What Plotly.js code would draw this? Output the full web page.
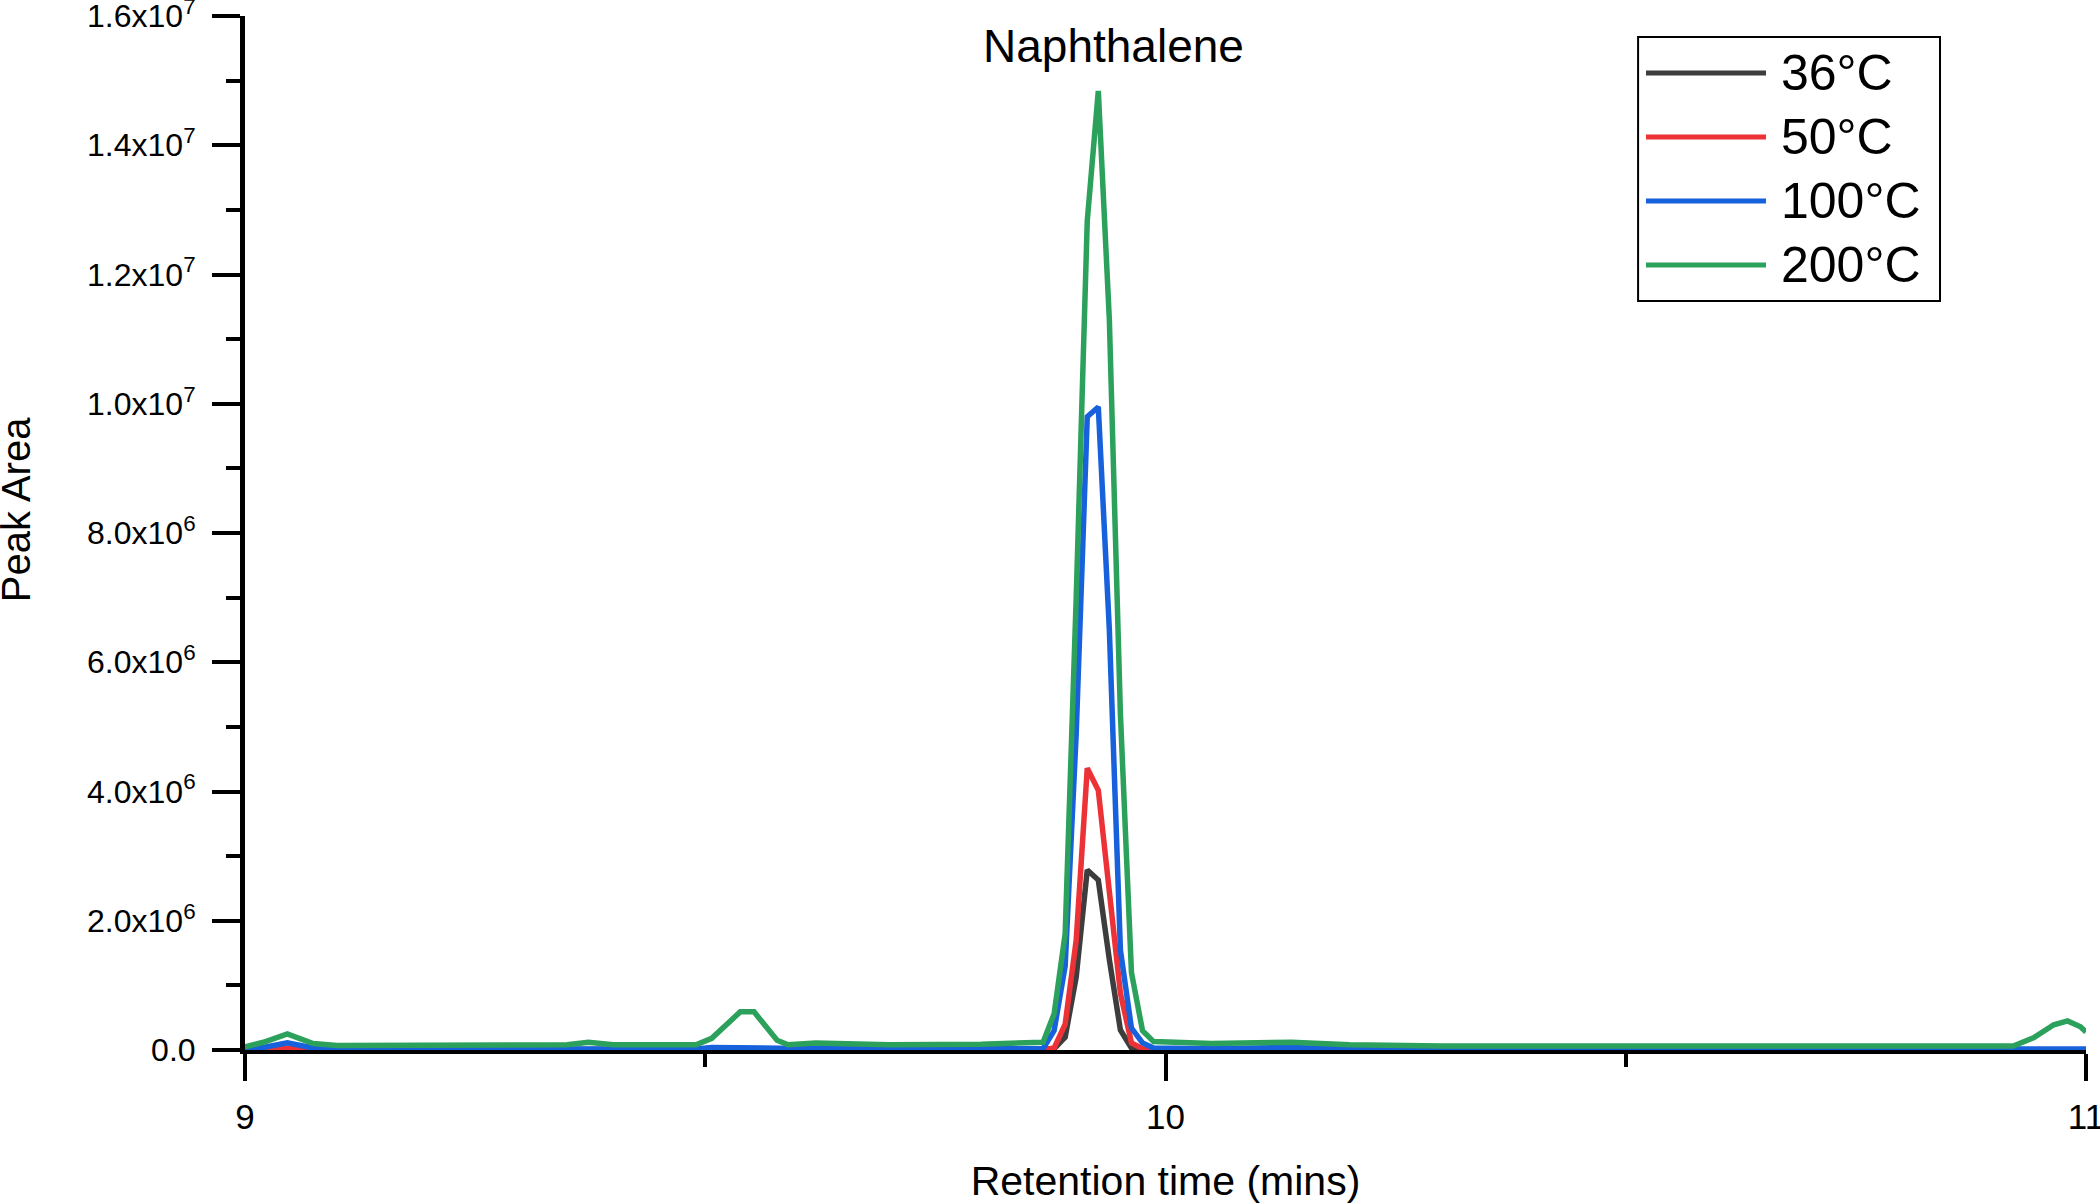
<!DOCTYPE html>
<html>
<head>
<meta charset="utf-8">
<script src="https://cdn.plot.ly/plotly-3.0.1.min.js"></script>
<style>
  html, body { margin: 0; padding: 0; background: #ffffff; }
  #chart { width: 2100px; height: 1204px; }
</style>
</head>
<body>
<div id="chart"></div>
<script>
// ---------------- data ----------------
const seriesNames = ['36°C', '50°C', '100°C', '200°C'];
const seriesColors = ['#3d3d3d', '#ec3237', '#1761dc', '#2ba15b'];

// Retention time (mins)
const retentionTime = [
  9.0, 9.02, 9.046, 9.074, 9.1, 9.2, 9.3, 9.35, 9.373, 9.4,
  9.49, 9.507, 9.538, 9.553, 9.578, 9.59, 9.62, 9.7, 9.8, 9.855,
  9.867, 9.879, 9.891, 9.903, 9.915, 9.927, 9.939, 9.951, 9.963, 9.975,
  9.987, 10.05, 10.137, 10.2, 10.3, 10.5, 10.6, 10.7, 10.9, 10.921,
  10.943, 10.965, 10.98, 10.994, 11.0
];

// Peak area, 36 °C
const area36 = [
  0, 0, 0, 0, 0, 0, 0, 0, 0, 0,
  0, 0, 0, 0, 0, 0, 0, 0, 0, 0,
  0, 2e4, 2.0e5, 1.13e6, 2.785e6, 2.63e6, 1.4e6, 3.1e5, 3e4, 0,
  0, 0, 0, 0, 0, 0, 0, 0, 0, 0,
  0, 0, 0, 0, 0
];

// Peak area, 50 °C
const area50 = [
  0, 1e4, 3e4, 1e4, 5e3, 5e3, 5e3, 5e3, 5e3, 5e3,
  5e3, 5e3, 5e3, 5e3, 5e3, 5e3, 5e3, 5e3, 5e3, 5e3,
  5e3, 3e4, 4.0e5, 1.7e6, 4.36e6, 4.02e6, 2.5e6, 8.8e5, 1.1e5, 2e4,
  5e3, 5e3, 5e3, 5e3, 5e3, 5e3, 5e3, 5e3, 5e3, 5e3,
  5e3, 5e3, 5e3, 5e3, 5e3
];

// Peak area, 100 °C
const area100 = [
  1e4, 4e4, 1.1e5, 3e4, 1.5e4, 1.5e4, 1.5e4, 1.5e4, 3e4, 1.5e4,
  1.5e4, 4e4, 4e4, 4e4, 4e4, 2e4, 2e4, 1.5e4, 1.5e4, 1.5e4,
  2e4, 3.0e5, 1.3e6, 4.9e6, 9.8e6, 9.95e6, 6.5e6, 1.55e6, 3.4e5, 1.1e5,
  3e4, 2e4, 4e4, 1.5e4, 1.5e4, 1.5e4, 1.5e4, 1.5e4, 1.5e4, 1.5e4,
  1.5e4, 1.5e4, 1.5e4, 1.5e4, 1.5e4
];

// Peak area, 200 °C
const area200 = [
  5e4, 1.2e5, 2.5e5, 1.0e5, 7e4, 7e4, 7e4, 8e4, 1.2e5, 8e4,
  8e4, 1.8e5, 5.9e5, 5.9e5, 1.5e5, 8e4, 1.1e5, 8e4, 9e4, 1.0e5,
  1.2e5, 5.6e5, 1.8e6, 7.0e6, 1.283e7, 1.484e7, 1.13e7, 5.2e6, 1.2e6, 3.0e5,
  1.3e5, 1.0e5, 1.2e5, 8e4, 6e4, 6e4, 7e4, 6e4, 6e4, 6e4,
  1.9e5, 3.9e5, 4.5e5, 3.6e5, 2.8e5
];

const seriesValues = [area36, area50, area100, area200];

// axis ticks
const xTickVals = [9, 10, 11];
const xTickText = ['9', '10', '11'];
const xMinorVals = [9.5, 10.5];
const yTickVals = [0, 2e6, 4e6, 6e6, 8e6, 1e7, 1.2e7, 1.4e7, 1.6e7];
const yTickText = ['0.0', '2.0x10<sup>6</sup>', '4.0x10<sup>6</sup>', '6.0x10<sup>6</sup>',
  '8.0x10<sup>6</sup>', '1.0x10<sup>7</sup>', '1.2x10<sup>7</sup>', '1.4x10<sup>7</sup>',
  '1.6x10<sup>7</sup>'];
const yMinorVals = [1e6, 3e6, 5e6, 7e6, 9e6, 1.1e7, 1.3e7, 1.5e7];

const peakLabel = 'Naphthalene';
const xTitle = 'Retention time (mins)';
const yTitle = 'Peak Area';

// ---------------- chart ----------------
const FONT = 'Liberation Sans, Arial, Helvetica, sans-serif';

const traces = seriesNames.map((name, i) => ({
  type: 'scatter',
  mode: 'lines',
  name: name,
  x: retentionTime,
  y: seriesValues[i],
  line: { color: seriesColors[i], width: 5.5, shape: 'linear' },
  showlegend: false,
  hoverinfo: 'x+y+name'
}));

// custom legend (long line samples as in the original)
const legBox = { x0: 0.7567, x1: 0.9207, y0: 0.7244, y1: 0.9797 };
const legRowTop = 0.9449, legRowStep = 0.0619;
const legLineX0 = 0.7610, legLineX1 = 0.8262, legTextX = 0.8330;

const shapes = [{
  type: 'rect', xref: 'paper', yref: 'paper',
  x0: legBox.x0, x1: legBox.x1, y0: legBox.y0, y1: legBox.y1,
  line: { color: '#000000', width: 2 }, fillcolor: 'rgba(255,255,255,1)', layer: 'above'
}];
const annotations = [];
seriesNames.forEach((name, i) => {
  const yy = legRowTop - i * legRowStep;
  shapes.push({
    type: 'line', xref: 'paper', yref: 'paper',
    x0: legLineX0, x1: legLineX1, y0: yy, y1: yy,
    line: { color: seriesColors[i], width: 5 }, layer: 'above'
  });
  annotations.push({
    xref: 'paper', yref: 'paper', x: legTextX, y: yy,
    xanchor: 'left', yanchor: 'middle', showarrow: false,
    text: name, font: { family: FONT, size: 50, color: '#000000' }
  });
});
annotations.push({
  xref: 'paper', yref: 'paper', x: 0.4715, y: 0.971,
  xanchor: 'center', yanchor: 'middle', showarrow: false,
  text: peakLabel, font: { family: FONT, size: 46, color: '#000000' }
});
// y-axis title (placed as in the original, slightly above the plot centre)
annotations.push({
  xref: 'paper', yref: 'paper', x: -0.1244, y: 0.523,
  xanchor: 'center', yanchor: 'middle', showarrow: false, textangle: -90,
  text: yTitle, font: { family: FONT, size: 40, color: '#000000' }
});

const layout = {
  width: 2100, height: 1204,
  margin: { l: 245, r: 14, t: 16, b: 154, pad: 0 },
  paper_bgcolor: '#ffffff', plot_bgcolor: '#ffffff',
  showlegend: false,
  font: { family: FONT, color: '#000000' },
  xaxis: {
    range: [9, 11], tickmode: 'array', tickvals: xTickVals, ticktext: xTickText,
    ticks: 'outside', ticklen: 27, tickwidth: 4, tickcolor: '#000000',
    showline: true, linecolor: '#000000', linewidth: 4,
    showgrid: false, zeroline: false, layer: 'below traces',
    tickfont: { family: FONT, size: 35, color: '#000000' },
    ticklabelstandoff: 6, ticklabeloverflow: 'allow',
    minor: { tickmode: 'array', tickvals: xMinorVals, ticks: 'outside', ticklen: 13, tickwidth: 4, tickcolor: '#000000', showgrid: false },
    title: { text: xTitle, font: { family: FONT, size: 41, color: '#000000' }, standoff: 32 },
    automargin: false
  },
  yaxis: {
    range: [0, 1.6e7], tickmode: 'array', tickvals: yTickVals, ticktext: yTickText,
    ticks: 'outside', ticklen: 28, tickwidth: 4, tickcolor: '#000000',
    showline: true, linecolor: '#000000', linewidth: 5,
    showgrid: false, zeroline: false, layer: 'below traces',
    tickfont: { family: FONT, size: 32, color: '#000000' },
    ticklabelstandoff: 10, ticklabeloverflow: 'allow',
    minor: { tickmode: 'array', tickvals: yMinorVals, ticks: 'outside', ticklen: 14, tickwidth: 4, tickcolor: '#000000', showgrid: false },
    automargin: false
  },
  shapes: shapes,
  annotations: annotations
};

Plotly.newPlot('chart', traces, layout, { displayModeBar: false, staticPlot: true });
</script>
</body>
</html>
